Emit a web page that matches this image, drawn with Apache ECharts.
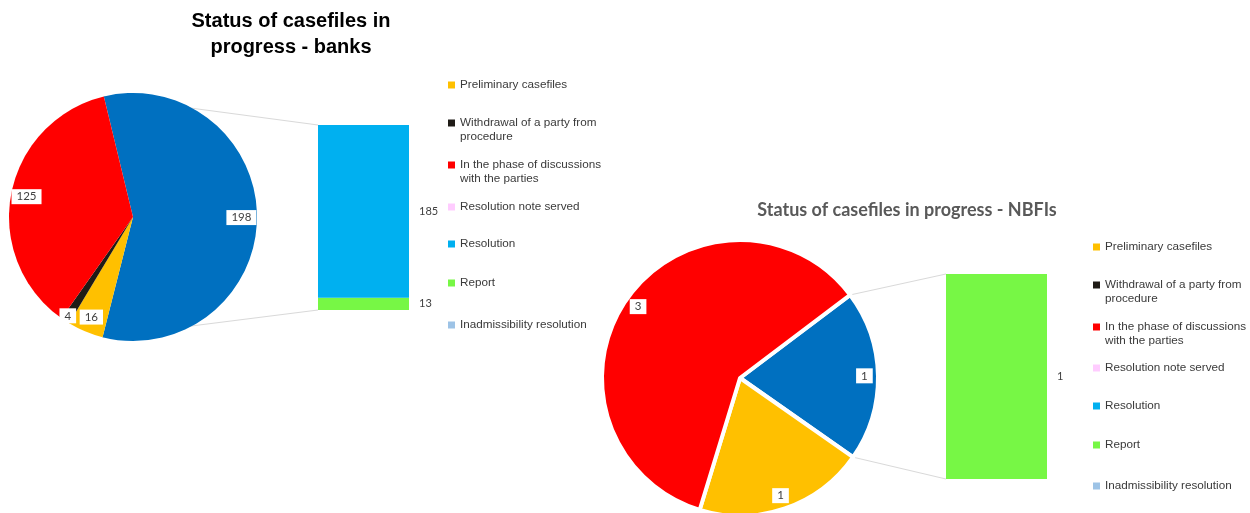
<!DOCTYPE html>
<html>
<head>
<meta charset="utf-8">
<script src="https://cdn.jsdelivr.net/npm/echarts@6/dist/echarts.min.js"></script>
<style>
html,body{margin:0;padding:0;background:#ffffff;}
#c{width:1250px;height:513px;}
</style>
</head>
<body>
<div id="c"></div>
<script>
// ---------------- DATA ----------------
const categories = [
  'Preliminary casefiles',
  'Withdrawal of a party from procedure',
  'In the phase of discussions with the parties',
  'Resolution note served',
  'Resolution',
  'Report',
  'Inadmissibility resolution'
];
const legendText = [
  'Preliminary casefiles',
  'Withdrawal of a party from\nprocedure',
  'In the phase of discussions\nwith the parties',
  'Resolution note served',
  'Resolution',
  'Report',
  'Inadmissibility resolution'
];
// first plot (pie) = categories 0..2, second plot (bar) = categories 3..6
const banksValues = [16, 4, 125, null, 185, 13, null];
const nbfiValues  = [1, null, 3, null, null, 1, null];
const titles = ['Status of casefiles in\nprogress - banks', 'Status of casefiles in progress - NBFIs'];
const otherName = 'Other';

// ---------------- STYLE ----------------
const colors = ['#FFC000', '#1F1B16', '#FF0000', '#FFCCFF', '#00B0F0', '#77F745', '#9DC3E6'];
const otherColor = '#0070C0';
const FONT = "'Liberation Sans', Arial, sans-serif";
const LABEL_FONT = "Lato, 'Open Sans', sans-serif";
const firstPlot = [0, 1, 2];
const secondPlot = [3, 4, 5, 6];

const panels = [
  { values: banksValues, center: [133, 217], r: 124, startAngle: 103.6, ringInner: 0.7, border: 0,
    labelOffset: { 2: [-6, 8] },
    grid: { left: 318, top: 125, width: 91, height: 185 },
    legendX: 448, legendY: [85, 123, 165, 207, 244, 283, 325] },
  { values: nbfiValues, center: [740, 378], r: 138, startAngle: 37, ringInner: 0.76, border: 4,
    labelOffset: {},
    grid: { left: 946, top: 274, width: 101, height: 205 },
    legendX: 1093, legendY: [247, 285, 327, 368, 406, 445, 486] }
];

function sum(a) { return a.reduce((s, v) => s + (v == null ? 0 : v), 0); }

const series = [], grids = [], xAxes = [], yAxes = [], legends = [];
panels.forEach((p, k) => {
  const other = sum(secondPlot.map(i => p.values[i]));
  p.other = other;
  const pieData = [{ name: otherName, value: other, itemStyle: { color: otherColor } }]
    .concat(firstPlot.map(i => ({ name: categories[i], value: p.values[i] == null ? '-' : p.values[i], itemStyle: { color: colors[i] } })));
  p.pieIndex = series.length;
  series.push({
    type: 'pie', center: p.center, radius: [0, p.r], startAngle: p.startAngle, clockwise: true,
    silent: true, animation: false, z: 2,
    itemStyle: { borderColor: '#ffffff', borderWidth: p.border },
    label: { show: false }, labelLine: { show: false },
    data: pieData
  });
  // label ring (transparent) to place labels near the rim
  series.push({
    type: 'pie', center: p.center, radius: [p.r * p.ringInner, p.r], startAngle: p.startAngle, clockwise: true,
    silent: true, animation: false, z: 3,
    itemStyle: { color: 'rgba(0,0,0,0)', borderWidth: 0 },
    label: { show: true, position: 'inside', formatter: '{c}', backgroundColor: '#ffffff',
      padding: [2, 5, 1, 5], color: '#404040', fontSize: 11.5, fontFamily: LABEL_FONT },
    labelLine: { show: false },
    labelLayout: { hideOverlap: false },
    data: pieData.map((d, j) => {
      const o = { name: d.name, value: d.value };
      if (p.labelOffset[j]) o.label = { offset: p.labelOffset[j] };
      return o;
    })
  });
  grids.push(Object.assign({ containLabel: false }, p.grid));
  xAxes.push({ type: 'category', gridIndex: k, data: [titles[k]], show: false });
  yAxes.push({ type: 'value', gridIndex: k, min: 0, max: other, show: false });
  // stack bottom -> top (Excel lists second plot top -> bottom)
  secondPlot.slice().reverse().forEach(i => {
    series.push({
      type: 'bar', name: categories[i], xAxisIndex: k, yAxisIndex: k, stack: 's' + k,
      barWidth: '100%', silent: true, animation: false,
      itemStyle: { color: colors[i] },
      label: { show: true, position: 'right', distance: 10, color: '#404040', fontSize: 11, fontFamily: LABEL_FONT },
      data: [p.values[i] == null ? '-' : p.values[i]]
    });
  });
  categories.forEach((name, i) => {
    const twoLine = legendText[i].indexOf('\n') >= 0;
    // a blank leading line keeps the marker level with the first text line
    const txt = twoLine ? ' \n' + legendText[i] : legendText[i];
    legends.push({
      data: [name], orient: 'vertical', left: p.legendX, top: p.legendY[i] - (twoLine ? 21 : 7),
      padding: 0, itemWidth: 7, itemHeight: 7, icon: 'rect', selectedMode: false,
      itemStyle: { borderWidth: 0 },
      formatter: () => txt,
      textStyle: { fontSize: 11.7, lineHeight: 14, color: '#3a3a3a', fontFamily: FONT }
    });
  });
});

const chart = echarts.init(document.getElementById('c'));
chart.setOption({
  animation: false,
  backgroundColor: '#ffffff',
  title: [
    { text: titles[0], left: 291, top: 8, textAlign: 'center', textVerticalAlign: 'top', padding: 0,
      textStyle: { fontSize: 20, fontWeight: 'bold', color: '#000000', fontFamily: FONT, lineHeight: 26 } },
    { text: titles[1], left: 907, top: 200, textAlign: 'center', textVerticalAlign: 'top', padding: 0,
      textStyle: { fontSize: 18, fontWeight: 'bold', color: '#595959', fontFamily: "Lato, 'Open Sans', sans-serif", lineHeight: 20 } }
  ],
  grid: grids, xAxis: xAxes, yAxis: yAxes, legend: legends, series: series
});

// connector lines from the "Other" slice edges to the bar corners
function connectors() {
  const model = chart.getModel();
  const els = [];
  panels.forEach((p, k) => {
    const lay = model.getSeriesByIndex(p.pieIndex).getData().getItemLayout(0);
    const a0 = lay.startAngle, a1 = lay.endAngle;
    const s = [lay.cx + lay.r * Math.cos(a0), lay.cy + lay.r * Math.sin(a0)];
    const e = [lay.cx + lay.r * Math.cos(a1), lay.cy + lay.r * Math.sin(a1)];
    const rect = model.getComponent('grid', k).coordinateSystem.getRect();
    const yTop = chart.convertToPixel({ gridIndex: k }, [0, p.other])[1];
    const yBot = chart.convertToPixel({ gridIndex: k }, [0, 0])[1];
    [[s, yTop], [e, yBot]].forEach(([pt, y]) => {
      els.push({ type: 'line', z: 1, silent: true,
        shape: { x1: pt[0], y1: pt[1], x2: rect.x, y2: y },
        style: { stroke: '#d9d9d9', lineWidth: 1 } });
    });
  });
  chart.setOption({ graphic: { elements: els } });
}
connectors();
</script>
</body>
</html>
